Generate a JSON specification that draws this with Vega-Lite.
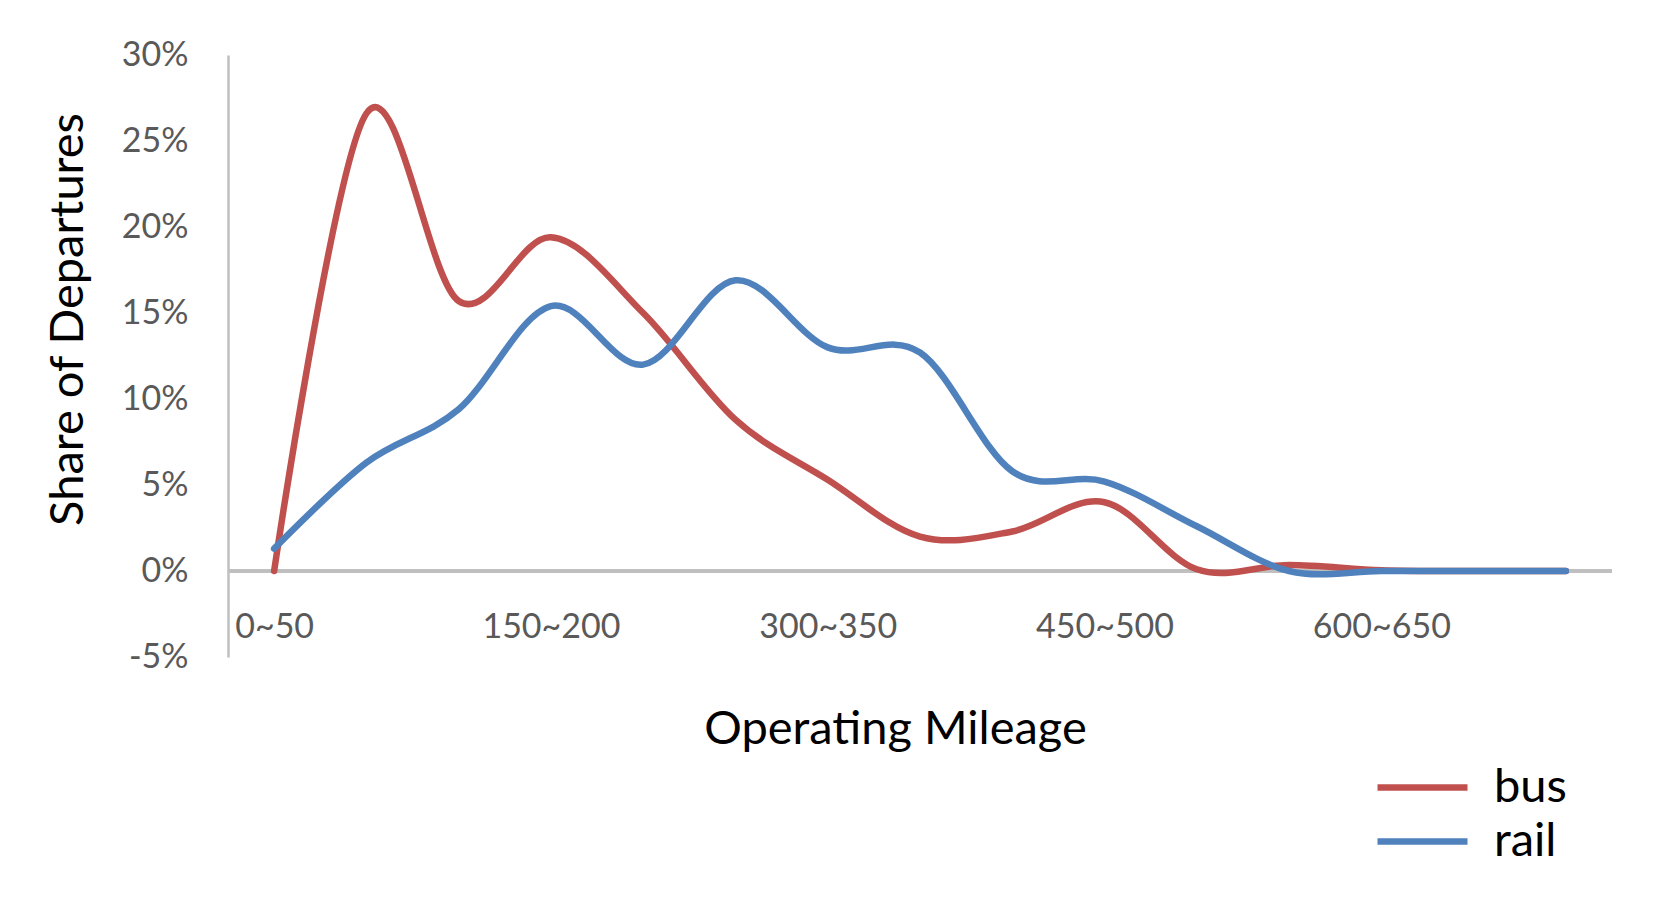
{
  "$schema": "https://vega.github.io/schema/vega-lite/v6.json",
  "width": 1384,
  "height": 602,
  "autosize": {"type": "none"},
  "padding": {"left": 228, "top": 55, "right": 51, "bottom": 250},
  "background": "white",
  "config": {"view": {"stroke": null}, "font": "Lato"},
  "data": {
    "values": [
      {"range": "0~50", "mode": "bus", "share": 0.0},
      {"range": "50~100", "mode": "bus", "share": 0.266},
      {"range": "100~150", "mode": "bus", "share": 0.157},
      {"range": "150~200", "mode": "bus", "share": 0.194},
      {"range": "200~250", "mode": "bus", "share": 0.150},
      {"range": "250~300", "mode": "bus", "share": 0.088},
      {"range": "300~350", "mode": "bus", "share": 0.053},
      {"range": "350~400", "mode": "bus", "share": 0.020},
      {"range": "400~450", "mode": "bus", "share": 0.023},
      {"range": "450~500", "mode": "bus", "share": 0.040},
      {"range": "500~550", "mode": "bus", "share": 0.001},
      {"range": "550~600", "mode": "bus", "share": 0.0035},
      {"range": "600~650", "mode": "bus", "share": 0.0005},
      {"range": "650~700", "mode": "bus", "share": 0.0},
      {"range": "700~750", "mode": "bus", "share": 0.0},
      {"range": "0~50", "mode": "rail", "share": 0.013},
      {"range": "50~100", "mode": "rail", "share": 0.063},
      {"range": "100~150", "mode": "rail", "share": 0.094},
      {"range": "150~200", "mode": "rail", "share": 0.154},
      {"range": "200~250", "mode": "rail", "share": 0.120},
      {"range": "250~300", "mode": "rail", "share": 0.169},
      {"range": "300~350", "mode": "rail", "share": 0.130},
      {"range": "350~400", "mode": "rail", "share": 0.127},
      {"range": "400~450", "mode": "rail", "share": 0.058},
      {"range": "450~500", "mode": "rail", "share": 0.052},
      {"range": "500~550", "mode": "rail", "share": 0.026},
      {"range": "550~600", "mode": "rail", "share": 0.0},
      {"range": "600~650", "mode": "rail", "share": 0.0},
      {"range": "650~700", "mode": "rail", "share": 0.0},
      {"range": "700~750", "mode": "rail", "share": 0.0}
    ]
  },
  "layer": [
    {
      "mark": {"type": "rule", "color": "#BFBFBF", "strokeWidth": 2.5},
      "encoding": {"y": {"datum": 0, "type": "quantitative"}}
    },
    {
      "mark": {"type": "line", "interpolate": "cardinal", "tension": 0, "strokeWidth": 6.5, "strokeCap": "round", "strokeJoin": "round"},
      "encoding": {
        "x": {
          "field": "range",
          "type": "ordinal",
          "sort": null,
          "scale": {"type": "point", "padding": 0.5},
          "axis": {
            "title": "Operating Mileage",
            "values": ["0~50", "150~200", "300~350", "450~500", "600~650"],
            "labelAngle": 0,
            "domain": false,
            "ticks": false,
            "tickSize": 0,
            "labelPadding": -20,
            "labelBaseline": "alphabetic",
            "labelFont": "Lato",
            "labelFontSize": 34,
            "labelColor": "#595959",
            "titleFont": "Lato",
            "titleFontSize": 47,
            "titleFontWeight": "normal",
            "titleColor": "#000000",
            "titleX": 667,
            "titleY": 86,
            "titleBaseline": "alphabetic",
            "titleAlign": "center"
          }
        },
        "y": {
          "field": "share",
          "type": "quantitative",
          "scale": {"domain": [-0.05, 0.3], "nice": false, "zero": false},
          "axis": {
            "title": "Share of Departures",
            "values": [-0.05, 0, 0.05, 0.1, 0.15, 0.2, 0.25, 0.3],
            "labelExpr": "round(datum.value * 100) + '%'",
            "grid": false,
            "domainColor": "#BFBFBF",
            "domainWidth": 2.5,
            "ticks": false,
            "tickSize": 0,
            "labelPadding": 40,
            "labelFont": "Lato",
            "labelFontSize": 34,
            "labelColor": "#595959",
            "titleFont": "Lato",
            "titleFontSize": 47,
            "titleFontWeight": "normal",
            "titleColor": "#000000",
            "titleX": -146,
            "titleY": 264,
            "titleAngle": 270,
            "titleBaseline": "alphabetic",
            "titleAlign": "center"
          }
        },
        "color": {
          "field": "mode",
          "type": "nominal",
          "scale": {"domain": ["bus", "rail"], "range": ["#C0504D", "#4F81BD"]},
          "legend": {
            "orient": "none",
            "legendX": 1171,
            "legendY": 709,
            "title": null,
            "symbolType": "M-4.5,0H4.5",
            "symbolSize": 400,
            "symbolStrokeWidth": 6.5,
            "symbolFillColor": "transparent",
            "labelFont": "Lato",
            "labelFontSize": 47,
            "labelColor": "#000000",
            "labelOffset": 48,
            "rowPadding": 6,
            "padding": 0
          }
        }
      }
    }
  ]
}
